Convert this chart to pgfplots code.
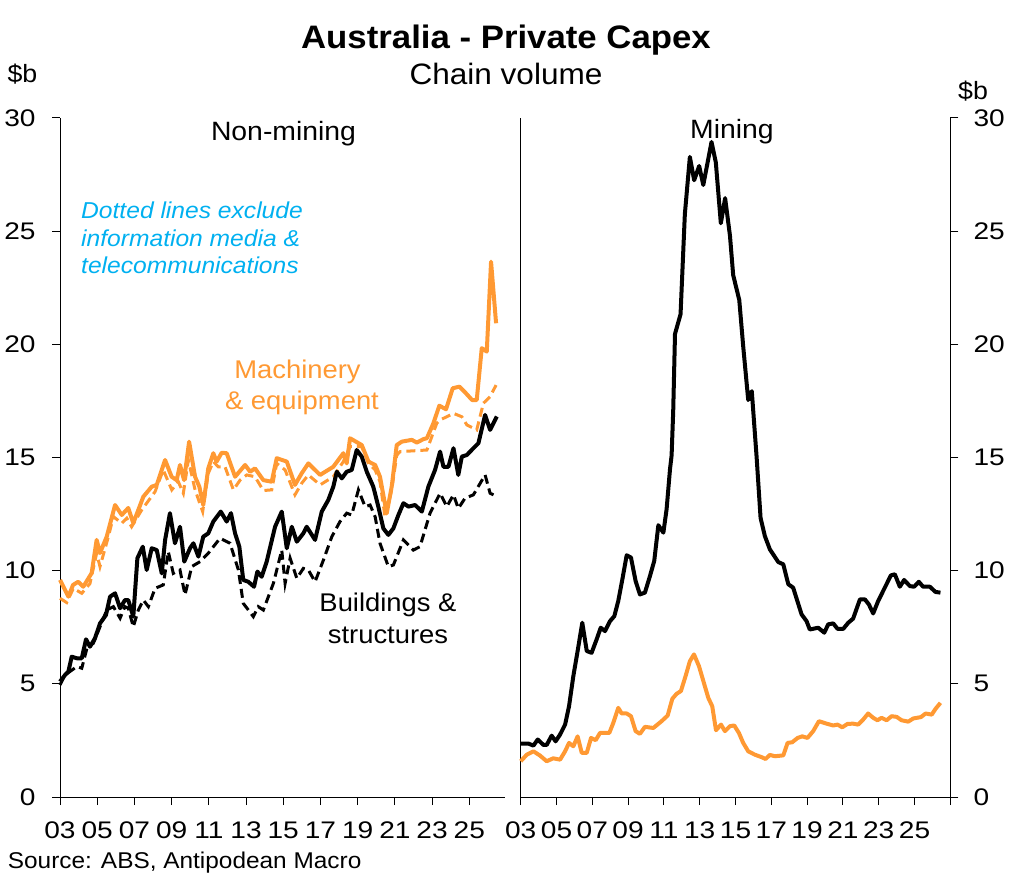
\documentclass[border=0pt]{standalone}
\usepackage{fontspec}
\setmainfont[FakeStretch=1.07]{Liberation Sans}
\newfontfamily\tickfont[FakeStretch=1.17]{Liberation Sans}
\usepackage{pgfplots}
\pgfplotsset{compat=1.18}
\definecolor{orng}{RGB}{255,153,51}
\definecolor{infoblue}{RGB}{0,176,240}
\begin{document}
\begin{tikzpicture}
\useasboundingbox (0pt,0pt) rectangle (1011pt,876pt);
\pgfplotsset{
  common/.style={
    scale only axis, height=679pt, ymin=0, ymax=30,
    ytick={0,5,...,30}, yticklabels={0,5,10,15,20,25,30},
    xtick={2003,2005,...,2025}, xticklabels={03,05,07,09,11,13,15,17,19,21,23,25},
    tick align=outside, major tick length=8pt,
    axis line style={-, line width=1pt, black}, tick style={line width=1pt, black},
    ticklabel style={font=\tickfont\fontsize{24}{24}\selectfont, inner sep=0pt},
    clip=false, xmin=2003,
  },
  solid line/.style={line width=4pt, line join=round, mark=none},
  dash line/.style={line width=3pt, dash pattern=on 9pt off 5pt, mark=none},
}
% ---------------- Non-mining ----------------
\begin{axis}[common, at={(60pt,79pt)}, anchor=south west, width=445pt, xmax=2026.92,
  axis x line*=bottom, axis y line*=left,
  xticklabel style={anchor=north, yshift=-16.7pt},
  yticklabel style={anchor=east, xshift=-16.3pt}]
% Buildings & structures, excl. IMT (dashed)
\addplot[black, dash line] coordinates {
(2003.00,4.95)(2003.27,5.39)(2003.90,5.76)(2004.17,5.69)(2004.47,6.64)(2004.79,6.79)
(2005.15,7.52)(2005.51,8.26)(2005.87,8.41)(2006.23,7.90)(2006.49,8.41)(2006.67,8.34)
(2006.94,7.52)(2007.21,8.26)(2007.48,8.70)(2007.75,8.41)(2008.11,9.22)(2008.55,9.37)
(2008.82,10.84)(2009.09,9.88)(2009.45,10.03)(2009.72,8.93)(2010.08,10.18)(2010.53,10.40)
(2010.97,10.77)(2011.60,11.43)(2012.14,11.21)(2012.59,10.03)(2012.85,8.56)(2013.39,7.97)
(2013.66,8.41)(2013.93,8.26)(2014.47,9.44)(2014.92,10.91)(2015.10,9.44)(2015.37,10.55)
(2015.73,9.66)(2016.08,10.10)(2016.35,10.03)(2016.71,9.51)(2017.16,10.47)(2017.61,11.50)
(2018.05,12.17)(2018.41,12.54)(2018.68,12.46)(2019.04,13.57)(2019.40,12.83)(2019.67,12.90)
(2019.94,12.38)(2020.20,11.21)(2020.65,10.18)(2020.92,10.25)(2021.46,11.36)(2021.99,10.91)
(2022.35,11.06)(2022.89,12.54)(2023.43,13.42)(2023.79,12.83)(2024.15,13.35)(2024.41,12.75)
(2024.77,13.20)(2025.22,13.35)(2025.85,14.23)(2026.12,13.42)(2026.30,13.35)};
% Machinery & equipment, excl. IMT (dashed)
\addplot[orng, dash line] coordinates {
(2003.00,8.78)(2003.36,8.59)(2003.72,9.22)(2004.17,9.00)(2004.61,9.43)(2004.97,10.77)
(2005.15,10.18)(2005.60,11.50)(2005.87,12.39)(2006.32,12.09)(2006.59,12.32)(2006.85,11.94)
(2007.39,12.68)(2008.11,13.49)(2008.55,14.45)(2009.01,13.57)(2009.36,13.93)(2009.63,13.42)
(2009.90,14.89)(2010.26,13.57)(2010.67,12.61)(2010.97,14.30)(2011.24,14.82)(2011.51,14.59)
(2011.87,14.59)(2012.32,13.57)(2012.68,14.00)(2013.04,14.23)(2013.48,14.15)(2013.93,13.54)
(2014.38,13.57)(2014.65,14.74)(2015.10,14.45)(2015.63,13.35)(2015.99,13.86)(2016.35,14.23)
(2016.98,13.79)(2017.69,14.15)(2018.23,14.82)(2018.59,15.48)(2019.22,15.48)(2019.58,14.74)
(2019.94,14.45)(2020.20,13.93)(2020.47,12.39)(2020.83,13.57)(2021.10,15.10)(2021.28,15.26)
(2022.72,15.33)(2023.25,16.51)(2023.43,16.66)(2023.79,16.80)(2024.15,16.95)(2024.60,16.80)
(2024.87,16.44)(2025.40,16.22)(2025.76,17.40)(2026.12,17.69)(2026.44,18.20)};
% Buildings & structures (solid)
\addplot[black, solid line] coordinates {
(2003.00,5.10)(2003.27,5.39)(2003.45,5.54)(2003.63,6.20)(2003.90,6.13)(2004.17,6.13)
(2004.40,6.97)(2004.61,6.64)(2004.88,7.01)(2005.15,7.67)(2005.47,8.04)(2005.69,8.85)
(2005.96,9.00)(2006.23,8.34)(2006.49,8.70)(2006.67,8.70)(2006.94,7.97)(2007.16,10.55)
(2007.45,11.06)(2007.66,10.03)(2007.93,10.99)(2008.20,10.91)(2008.47,9.88)(2008.65,11.36)
(2008.91,12.54)(2009.18,11.21)(2009.45,11.94)(2009.68,10.40)(2009.99,10.99)(2010.17,11.21)
(2010.44,10.62)(2010.70,11.50)(2010.97,11.65)(2011.24,12.17)(2011.64,12.61)(2011.96,12.17)
(2012.19,12.54)(2012.41,11.65)(2012.64,11.06)(2012.85,9.59)(2013.12,9.51)(2013.43,9.29)
(2013.61,9.96)(2013.84,9.73)(2014.11,10.40)(2014.56,11.94)(2014.92,12.61)(2015.19,10.99)
(2015.46,11.94)(2015.73,11.28)(2016.08,11.65)(2016.26,11.94)(2016.71,11.36)(2017.07,12.61)
(2017.42,13.12)(2017.69,13.71)(2017.88,14.37)(2018.15,14.08)(2018.41,14.37)(2018.68,14.45)
(2018.95,15.33)(2019.22,15.04)(2019.49,14.37)(2019.84,13.71)(2020.11,12.83)(2020.38,11.87)
(2020.65,11.58)(2020.92,11.87)(2021.19,12.46)(2021.46,12.98)(2021.73,12.83)(2022.09,12.90)
(2022.45,12.61)(2022.80,13.71)(2023.16,14.45)(2023.43,15.26)(2023.61,14.59)(2023.88,14.59)
(2024.15,15.41)(2024.41,14.23)(2024.60,15.04)(2024.87,15.11)(2025.22,15.41)(2025.49,15.63)
(2025.85,16.88)(2026.12,16.22)(2026.48,16.81)};
% Machinery & equipment (solid)
\addplot[orng, solid line] coordinates {
(2003.00,9.59)(2003.45,8.85)(2003.70,9.37)(2003.98,9.51)(2004.25,9.29)(2004.70,9.89)
(2004.97,11.36)(2005.15,10.78)(2005.51,11.50)(2005.96,12.90)(2006.32,12.46)(2006.67,12.77)
(2006.94,12.10)(2007.48,13.27)(2007.93,13.71)(2008.20,13.79)(2008.65,14.89)(2009.00,14.15)
(2009.27,14.00)(2009.45,14.67)(2009.67,14.00)(2009.94,15.70)(2010.26,14.15)(2010.49,13.71)
(2010.70,12.90)(2010.97,14.52)(2011.24,15.19)(2011.42,14.82)(2011.69,15.21)(2011.96,15.19)
(2012.41,14.15)(2012.95,14.67)(2013.22,14.37)(2013.48,14.52)(2013.93,14.00)(2014.38,13.93)
(2014.65,14.97)(2015.19,14.82)(2015.63,13.79)(2015.99,14.30)(2016.35,14.74)(2016.98,14.23)
(2017.69,14.59)(2018.23,15.19)(2018.41,14.74)(2018.59,15.85)(2019.22,15.55)(2019.58,14.82)
(2019.94,14.67)(2020.20,14.15)(2020.56,12.53)(2020.83,13.71)(2021.10,15.55)(2021.37,15.70)
(2021.91,15.78)(2022.18,15.66)(2022.53,15.81)(2022.72,15.85)(2023.07,16.51)(2023.39,17.29)
(2023.75,17.13)(2024.11,18.06)(2024.47,18.13)(2024.74,17.91)(2025.15,17.54)(2025.40,17.54)
(2025.67,19.83)(2025.94,19.68)(2026.17,23.65)(2026.44,20.93)};
\end{axis}
% ---------------- Mining ----------------
\begin{axis}[common, at={(520.7pt,79pt)}, anchor=south west, width=429.6pt, xmax=2027,
  axis x line*=bottom, axis y line*=right,
  extra x ticks={2027}, extra x tick labels={},
  xticklabel style={anchor=north, yshift=-16.7pt},
  yticklabel style={anchor=west, xshift=15pt}]
\draw[line width=1pt] (rel axis cs:0,0) -- (rel axis cs:0,1);
\addplot[black, solid line] coordinates {
(2003.00,2.36)(2003.43,2.36)(2003.71,2.27)(2003.95,2.54)(2004.27,2.30)(2004.45,2.30)
(2004.73,2.71)(2004.95,2.46)(2005.20,2.76)(2005.48,3.20)(2005.70,4.01)(2005.94,5.34)
(2006.18,6.45)(2006.44,7.70)(2006.69,6.45)(2006.96,6.37)(2007.24,6.96)(2007.47,7.48)
(2007.71,7.33)(2007.99,7.77)(2008.23,7.99)(2008.45,8.66)(2008.68,9.62)(2008.92,10.68)
(2009.16,10.58)(2009.42,9.54)(2009.66,8.95)(2009.94,9.03)(2010.22,9.76)(2010.46,10.43)
(2010.69,12.01)(2010.97,11.68)(2011.15,12.71)(2011.34,14.48)(2011.43,15.09)(2011.52,17.06)
(2011.62,20.46)(2011.93,21.33)(2012.17,25.75)(2012.45,28.28)(2012.69,27.25)(2012.97,27.88)
(2013.20,27.04)(2013.66,28.94)(2013.90,28.04)(2014.18,25.35)(2014.42,26.46)(2014.69,24.80)
(2014.87,23.06)(2015.21,21.96)(2015.43,19.91)(2015.71,17.54)(2015.91,17.93)(2016.18,15.01)
(2016.40,12.33)(2016.64,11.53)(2016.92,10.94)(2017.39,10.38)(2017.67,10.28)(2017.95,9.40)
(2018.22,9.25)(2018.69,8.07)(2018.97,7.77)(2019.15,7.40)(2019.62,7.48)(2019.96,7.26)
(2020.18,7.63)(2020.46,7.67)(2020.70,7.43)(2021.02,7.43)(2021.30,7.70)(2021.57,7.88)
(2021.95,8.73)(2022.23,8.73)(2022.45,8.51)(2022.69,8.11)(2022.97,8.66)(2023.34,9.25)
(2023.68,9.79)(2023.90,9.84)(2024.18,9.29)(2024.42,9.59)(2024.74,9.32)(2024.98,9.29)
(2025.24,9.51)(2025.48,9.29)(2025.86,9.29)(2026.17,9.06)(2026.45,9.03)};
\addplot[orng, solid line] coordinates {
(2003.00,1.58)(2003.34,1.87)(2003.71,2.02)(2004.08,1.83)(2004.45,1.58)(2004.82,1.71)
(2005.20,1.65)(2005.48,2.02)(2005.70,2.39)(2005.94,2.24)(2006.18,2.68)(2006.41,1.95)
(2006.69,1.95)(2006.93,2.61)(2007.19,2.51)(2007.43,2.83)(2007.95,2.83)(2008.17,3.27)
(2008.45,3.94)(2008.64,3.69)(2008.92,3.69)(2009.16,3.57)(2009.42,2.91)(2009.66,2.79)
(2009.94,3.10)(2010.41,3.05)(2010.87,3.35)(2011.21,3.60)(2011.47,4.34)(2011.71,4.56)
(2011.95,4.68)(2012.21,5.34)(2012.45,6.00)(2012.68,6.30)(2012.96,5.78)(2013.26,4.97)
(2013.48,4.38)(2013.70,4.01)(2013.91,2.95)(2014.19,3.20)(2014.41,2.91)(2014.69,3.13)
(2014.93,3.16)(2015.19,2.83)(2015.43,2.39)(2015.71,2.02)(2016.08,1.87)(2016.46,1.76)
(2016.68,1.68)(2016.92,1.86)(2017.20,1.80)(2017.67,1.84)(2017.91,2.39)(2018.17,2.42)
(2018.47,2.61)(2018.73,2.68)(2019.02,2.61)(2019.34,2.91)(2019.66,3.35)(2020.09,3.24)
(2020.46,3.16)(2020.70,3.20)(2020.96,3.08)(2021.26,3.23)(2021.57,3.24)(2021.85,3.20)
(2022.13,3.42)(2022.41,3.69)(2022.69,3.50)(2022.93,3.39)(2023.16,3.50)(2023.44,3.39)
(2023.72,3.57)(2024.00,3.54)(2024.28,3.39)(2024.65,3.33)(2024.93,3.47)(2025.36,3.53)
(2025.62,3.69)(2025.96,3.64)(2026.17,3.89)(2026.45,4.16)};
\end{axis}
% ---------------- Texts ----------------
\node[anchor=base, inner sep=0pt, font=\bfseries\fontsize{32.5}{36}\selectfont] at (506pt,827.7pt) {Australia - Private Capex};
\node[anchor=base, inner sep=0pt, font=\fontsize{29.5}{33}\selectfont] at (506pt,791pt) {Chain volume};
\node[anchor=base west, inner sep=0pt, font=\fontsize{25}{28}\selectfont] at (7.3pt,793pt) {\$b};
\node[anchor=base west, inner sep=0pt, font=\fontsize{25}{28}\selectfont] at (958pt,776pt) {\$b};
\node[anchor=base, inner sep=0pt, font=\fontsize{26.5}{30}\selectfont] at (283.5pt,735.3pt) {Non-mining};
\node[anchor=base, inner sep=0pt, font=\fontsize{26.5}{30}\selectfont] at (732pt,737pt) {Mining};
\node[anchor=base west, inner sep=0pt, text=infoblue, font=\itshape\fontsize{23}{27}\selectfont] at (81pt,657pt) {Dotted lines exclude};
\node[anchor=base west, inner sep=0pt, text=infoblue, font=\itshape\fontsize{23}{27}\selectfont] at (81pt,629.3pt) {information media \&};
\node[anchor=base west, inner sep=0pt, text=infoblue, font=\itshape\fontsize{23}{27}\selectfont] at (81pt,602pt) {telecommunications};
\node[anchor=base, inner sep=0pt, text=orng, font=\fontsize{25.6}{30}\selectfont] at (297.5pt,497.7pt) {Machinery};
\node[anchor=base, inner sep=0pt, text=orng, font=\fontsize{25.6}{30}\selectfont] at (302pt,466pt) {\& equipment};
\node[anchor=base, inner sep=0pt, font=\fontsize{25.6}{30}\selectfont] at (388pt,264.3pt) {Buildings \&};
\node[anchor=base, inner sep=0pt, font=\fontsize{25.6}{30}\selectfont] at (388pt,232.7pt) {structures};
\node[anchor=base west, inner sep=0pt, font=\fontsize{22.8}{26}\selectfont] at (7.7pt,7.7pt) {Source: ABS, Antipodean Macro};
\end{tikzpicture}
\end{document}
